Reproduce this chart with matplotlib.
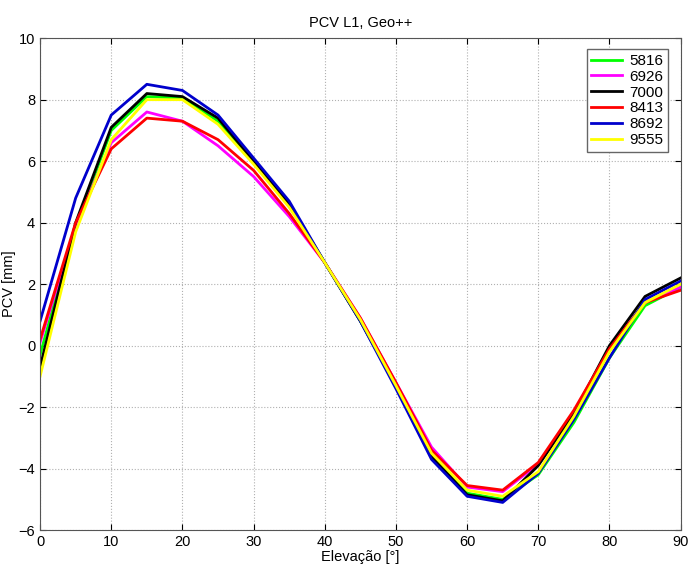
import numpy as np
import matplotlib
matplotlib.use('Agg')
import matplotlib.pyplot as plt

# elevation angles in degrees
elev = [0, 5, 10, 15, 20, 25, 30, 35, 40, 45, 50, 55, 60, 65, 70, 75, 80, 85, 90]

# PCV values (mm) per antenna
pcv_5816 = [-0.3, 3.9, 7.0, 8.1, 8.05, 7.3, 6.0, 4.6, 2.7, 0.8, -1.3, -3.5, -4.8, -5.0, -4.2, -2.5, -0.4, 1.3, 1.9]
pcv_6926 = [0.1, 3.9, 6.6, 7.6, 7.3, 6.5, 5.5, 4.2, 2.7, 0.9, -1.2, -3.3, -4.6, -4.75, -3.85, -2.2, -0.1, 1.4, 1.9]
pcv_7000 = [-0.7, 4.0, 7.1, 8.2, 8.1, 7.4, 6.0, 4.6, 2.7, 0.8, -1.3, -3.6, -4.85, -5.05, -3.9, -2.2, 0.0, 1.6, 2.2]
pcv_8413 = [0.2, 4.0, 6.4, 7.4, 7.3, 6.7, 5.7, 4.3, 2.7, 0.9, -1.2, -3.4, -4.55, -4.7, -3.8, -2.1, -0.1, 1.4, 1.8]
pcv_8692 = [0.8, 4.8, 7.5, 8.5, 8.3, 7.5, 6.1, 4.7, 2.7, 0.8, -1.4, -3.7, -4.9, -5.1, -4.15, -2.4, -0.4, 1.5, 2.1]
pcv_9555 = [-1.0, 3.7, 6.7, 8.0, 8.0, 7.2, 5.9, 4.5, 2.7, 0.85, -1.3, -3.5, -4.7, -4.9, -4.1, -2.3, -0.2, 1.4, 2.0]

labels = ['5816', '6926', '7000', '8413', '8692', '9555']
series = [pcv_5816, pcv_6926, pcv_7000, pcv_8413, pcv_8692, pcv_9555]
colors = ['#00ff00', '#ff00ff', 'black', 'red', '#0000cc', '#ffff00']

plt.rcParams['font.family'] = ['Liberation Sans', 'DejaVu Sans']

fig = plt.figure(figsize=(6.91, 5.70), dpi=100)
ax = fig.add_axes([0.058, 0.070, 0.927, 0.863])

for vals, lab, c in zip(series, labels, colors):
    ax.plot(elev, vals, color=c, linewidth=2, label=lab)

ax.set_xlim(0, 90)
ax.set_ylim(-6, 10)
ax.set_xticks(np.arange(0, 91, 10))
ax.set_yticks(np.arange(-6, 11, 2))
ax.grid(True, linestyle=':', color='#b0b0b0', linewidth=0.8)
ax.tick_params(direction='in', labelsize=10.5, length=4, top=True, right=True)
for sp in ax.spines.values():
    sp.set_color('#555555')

ax.set_xlabel('Elevação [°]', fontsize=10.5, labelpad=1)
ax.set_ylabel('PCV [mm]', fontsize=10.5, labelpad=2)
ax.set_title('PCV L1, Geo++', fontsize=10.5, pad=8)

leg = ax.legend(loc='upper right', fontsize=11, fancybox=False, framealpha=1,
                edgecolor='#666666', handlelength=2.0, labelspacing=0.12,
                borderpad=0.3, handletextpad=0.5, bbox_to_anchor=(0.992, 0.993))

fig.savefig('out.png', dpi=100)
